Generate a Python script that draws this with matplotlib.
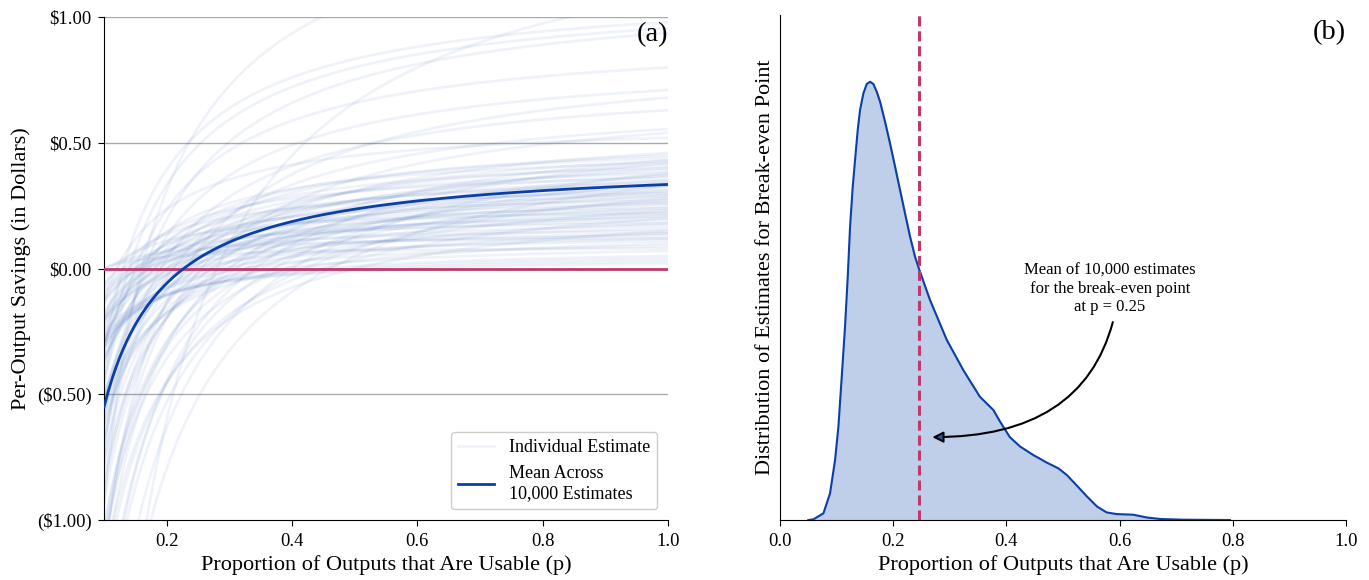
import numpy as np
import matplotlib
matplotlib.use("Agg")
import matplotlib.pyplot as plt

plt.rcParams['font.family'] = ['Liberation Serif', 'DejaVu Serif']

# per-estimate curves: break-even point p0 and savings at p = 1
break_even = [0.095, 0.1,
              0.11, 0.12, 0.12, 0.13, 0.13, 0.13, 0.14, 0.14, 0.14, 0.145, 0.15, 0.15, 0.15,
              0.155, 0.155, 0.16, 0.16, 0.16, 0.16, 0.165, 0.165, 0.17, 0.17, 0.17, 0.175,
              0.18, 0.18, 0.185, 0.19, 0.19, 0.195, 0.2, 0.2,
              0.205, 0.21, 0.21, 0.215, 0.22, 0.22, 0.225, 0.23, 0.23, 0.235, 0.24, 0.24, 0.245, 0.25,
              0.255, 0.26, 0.265, 0.27, 0.275, 0.28, 0.285, 0.29, 0.295, 0.3,
              0.305, 0.31, 0.32, 0.325, 0.33, 0.34, 0.35,
              0.36, 0.37, 0.38, 0.39, 0.4,
              0.41, 0.42, 0.44, 0.45,
              0.46, 0.48, 0.5, 0.53, 0.6]
saving_at_full = [0.08, 0.12,
                  0.22, 0.30, 0.52, 0.98, 0.18, 0.36, 0.956, 0.27, 0.42, 0.15, 0.80, 0.33, 0.24,
                  0.40, 0.20, 1.31, 0.44, 0.29, 0.13, 0.937, 0.38, 0.26, 0.71, 0.34, 0.19,
                  0.45, 0.31, 0.23, 0.63, 0.35, 0.17, 0.41, 0.28,
                  0.21, 0.555, 0.37, 0.25, 0.43, 0.14, 0.32, 0.68, 0.22, 0.39, 0.30, 0.11, 0.46, 0.26,
                  0.54, 0.35, 0.16, 0.40, 0.24, 1.08, 0.33, 0.12, 0.29, 0.43,
                  0.21, 0.37, 0.09, 0.31, 0.18, 0.42, 0.27,
                  0.14, 0.34, 0.07, 0.23, 0.38,
                  0.10, 0.28, 0.05, 0.20,
                  0.33, 0.04, 0.15, 0.03, 0.02]

# mean curve: savings = human - ai / p
mean_human = 0.433
mean_ai = 0.0983
mean_break_even = 0.246

# density of break-even estimates
kde_x = [0.05, 0.0589, 0.0766, 0.0883, 0.0972, 0.1031, 0.109, 0.1148, 0.1196, 0.1237,
         0.1284, 0.1325, 0.1372, 0.1413, 0.1472, 0.1531, 0.159, 0.1649, 0.1708, 0.1767,
         0.1855, 0.1943, 0.2032, 0.212, 0.2208, 0.2297, 0.2385, 0.2462, 0.265, 0.2945,
         0.324, 0.353, 0.377, 0.389, 0.406, 0.424, 0.447, 0.471, 0.492, 0.507,
         0.524, 0.542, 0.56, 0.577, 0.595, 0.624, 0.648, 0.672, 0.712, 0.795]
kde_y = [0, 0.008, 0.079, 0.315, 0.709, 1.103, 1.694, 2.285, 2.876, 3.467,
         3.94, 4.255, 4.61, 4.846, 5.043, 5.154, 5.181, 5.154, 5.063, 4.945,
         4.708, 4.452, 4.177, 3.901, 3.625, 3.349, 3.113, 2.955, 2.6, 2.13,
         1.77, 1.458, 1.30, 1.16, 0.98, 0.87, 0.77, 0.68, 0.61, 0.53,
         0.41, 0.28, 0.16, 0.09, 0.07, 0.063, 0.03, 0.012, 0.004, 0]

blue = '#0b3fa8'
red = '#c0396d'

fig = plt.figure(figsize=(13.69, 5.80), dpi=100)
ax1 = fig.add_axes([0.076, 0.1034, 0.412, 0.867])
ax2 = fig.add_axes([0.5698, 0.1034, 0.4134, 0.8707])

p = np.linspace(0.1, 1.0, 300)
for p0, v1 in zip(break_even, saving_at_full):
    h = v1 / (1 - p0)
    c = h * p0
    ax1.plot(p, h - c / p, color='#3a66b8', alpha=0.08, lw=2, zorder=2)
ax1.plot([], [], color='#3a66b8', alpha=0.08, lw=2, label='Individual Estimate')

for yv in [1.0, 0.5, -0.5]:
    ax1.axhline(yv, color='#aaaaaa', lw=1, zorder=1)
ax1.axhline(0, color=red, lw=2, zorder=3)
ax1.plot(p, mean_human - mean_ai / p, color=blue, lw=2, zorder=4,
         label='Mean Across\n10,000 Estimates')

ax1.set_xlim(0.1, 1.0)
ax1.set_ylim(-1.0, 1.0)
ax1.set_xticks([0.2, 0.4, 0.6, 0.8, 1.0])
ax1.set_xticklabels(['0.2', '0.4', '0.6', '0.8', '1.0'])
ax1.set_yticks([1.0, 0.5, 0.0, -0.5, -1.0])
ax1.set_yticklabels(['\\$1.00', '\\$0.50', '\\$0.00', '(\\$0.50)', '(\\$1.00)'])
ax1.tick_params(labelsize=13.4, length=4.5, pad=4.5)
for s in ['top', 'right']:
    ax1.spines[s].set_visible(False)
ax1.set_xlabel('Proportion of Outputs that Are Usable (p)', fontsize=16)
ax1.set_ylabel('Per-Output Savings (in Dollars)', fontsize=16)
ax1.text(1.0, 0.99, '(a)', transform=ax1.transAxes, ha='right', va='top', fontsize=20.5)
leg = ax1.legend(loc='lower right', fontsize=13, framealpha=1, edgecolor='#cccccc',
                 borderaxespad=0.6)

ax2.fill_between(kde_x, kde_y, color='#bfcfe9', zorder=1)
ax2.plot(kde_x, kde_y, color=blue, lw=1.5, zorder=2)
ax2.axvline(mean_break_even, color=red, lw=2.2, ls=(0, (3.3, 1.6)), zorder=3)
ax2.set_xlim(0, 1)
ax2.set_ylim(0, 5.97)
ax2.set_xticks([0.0, 0.2, 0.4, 0.6, 0.8, 1.0])
ax2.set_yticks([])
ax2.tick_params(labelsize=13.4, length=4.5, pad=4.5)
for s in ['top', 'right']:
    ax2.spines[s].set_visible(False)
ax2.set_xlabel('Proportion of Outputs that Are Usable (p)', fontsize=16)
ax2.set_ylabel('Distribution of Estimates for Break-even Point', fontsize=16)
ax2.text(1.0, 0.99, '(b)', transform=ax2.transAxes, ha='right', va='top', fontsize=20.5)
ax2.text(0.583, 2.73, 'Mean of 10,000 estimates\nfor the break-even point\nat p = 0.25',
         ha='center', va='center', fontsize=12)
ax2.annotate('', xy=(0.269, 0.98), xytext=(0.588, 2.34),
             arrowprops=dict(arrowstyle='-|>', color='black', fc='#1f5fb0', lw=1.5,
                             mutation_scale=16,
                             connectionstyle='angle3,angleA=75,angleB=0',
                             shrinkA=0, shrinkB=0))

fig.savefig('out.png', dpi=100)
